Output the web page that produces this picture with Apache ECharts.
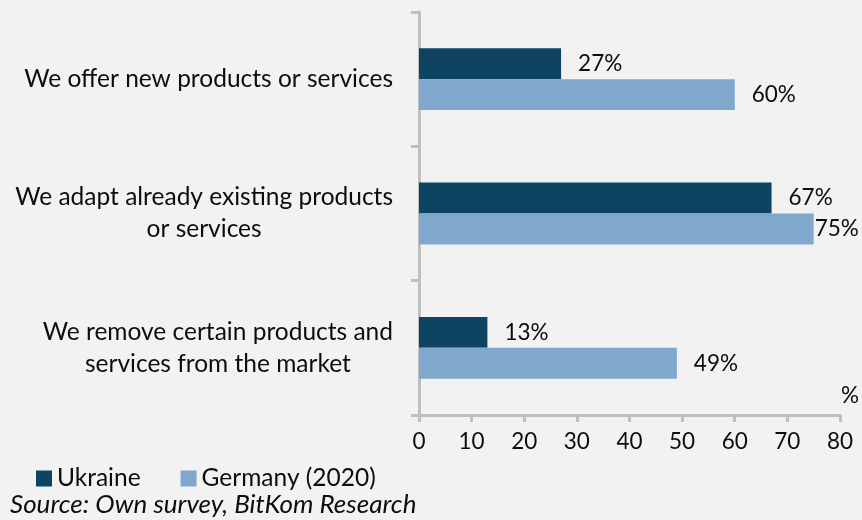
<!DOCTYPE html>
<html>
<head>
<meta charset="utf-8">
<script src="https://cdn.jsdelivr.net/npm/echarts@6/dist/echarts.min.js"></script>
<style>
  html, body { margin: 0; padding: 0; background: #f2f2f2; }
  #chart { width: 862px; height: 520px; }
</style>
</head>
<body>
<div id="chart"></div>
<script>
// Survey answers, top to bottom
const categories = [
  'We offer new products or services',
  'We adapt already existing products\nor services',
  'We remove certain products and\nservices from the market'
];
const seriesNames = ['Ukraine', 'Germany (2020)'];
const ukraineValues = [27, 67, 13];
const germanyValues = [60, 75, 49];
const xTicks = [0, 10, 20, 30, 40, 50, 60, 70, 80];
const sourceNote = 'Source: Own survey, BitKom Research';

const FONT = 'Lato, "Open Sans", sans-serif';
const FS_TEXT = 24.5;   // words: category names, legend
const FS_NOTE = 26;     // italic source line
const FS_NUM = 22.5;    // numbers: ticks and value labels
const AXIS_GREY = '#bfbfbf';
const TEXT = '#0d0d0d';

const chart = echarts.init(document.getElementById('chart'), null, { renderer: 'canvas' });

// the longest bar sits against the right edge, so its label hugs the bar
const germanyMax = Math.max.apply(null, germanyValues);
function germanyItem(v) {
  return v === germanyMax ? { value: v, label: { distance: 1 } } : v;
}

const valueLabel = {
  show: true, position: 'right', distance: 17, formatter: '{c}%',
  fontFamily: FONT, fontSize: FS_NUM, color: TEXT
};

chart.setOption({
  backgroundColor: '#f2f2f2',
  animation: false,
  textStyle: { fontFamily: FONT },
  title: {
    text: sourceNote,
    left: 5,
    bottom: -3,
    textStyle: { fontFamily: FONT, fontSize: FS_NOTE, fontStyle: 'italic', fontWeight: 'normal', color: TEXT }
  },
  legend: {
    data: seriesNames,
    left: 36,
    top: 466,
    padding: 0,
    itemWidth: 16,
    itemHeight: 16,
    itemGap: 40,
    icon: 'rect',
    textStyle: { fontFamily: FONT, fontSize: FS_TEXT, color: TEXT, lineHeight: 16 }
  },
  grid: { left: 419, right: 22, top: 12, bottom: 105, containLabel: false },
  xAxis: {
    type: 'value',
    min: xTicks[0],
    max: xTicks[xTicks.length - 1],
    interval: xTicks[1] - xTicks[0],
    name: '%',
    nameLocation: 'end',
    nameGap: 10,
    nameTextStyle: { fontFamily: FONT, fontSize: FS_NUM, color: TEXT, align: 'center', verticalAlign: 'bottom', padding: [0, 0, 8, 0] },
    splitLine: { show: false },
    axisLine: { show: true, lineStyle: { color: AXIS_GREY, width: 3 } },
    axisTick: { show: true, length: 7, lineStyle: { color: AXIS_GREY, width: 3 } },
    axisLabel: { margin: 15, fontFamily: FONT, fontSize: FS_NUM, color: TEXT }
  },
  yAxis: {
    type: 'category',
    inverse: true,
    data: categories,
    axisLine: { show: true, lineStyle: { color: AXIS_GREY, width: 3 } },
    axisTick: { show: true, length: 8, inside: false, alignWithLabel: false, lineStyle: { color: AXIS_GREY, width: 3 } },
    axisLabel: {
      margin: 26,
      formatter: function (v) {
        return v.split('\n').map(function (line) { return '{c|' + line + '}'; }).join('\n');
      },
      rich: {
        c: { align: 'center', fontFamily: FONT, fontSize: FS_TEXT, color: TEXT, lineHeight: 32 }
      }
    }
  },
  series: [
    {
      name: seriesNames[0],
      type: 'bar',
      data: ukraineValues,
      barGap: '0%',
      barCategoryGap: '54%',
      itemStyle: { color: '#0e4461' },
      label: valueLabel
    },
    {
      name: seriesNames[1],
      type: 'bar',
      data: germanyValues.map(germanyItem),
      barGap: '0%',
      barCategoryGap: '54%',
      itemStyle: { color: '#80a8cc' },
      label: valueLabel
    }
  ]
});
</script>
</body>
</html>
